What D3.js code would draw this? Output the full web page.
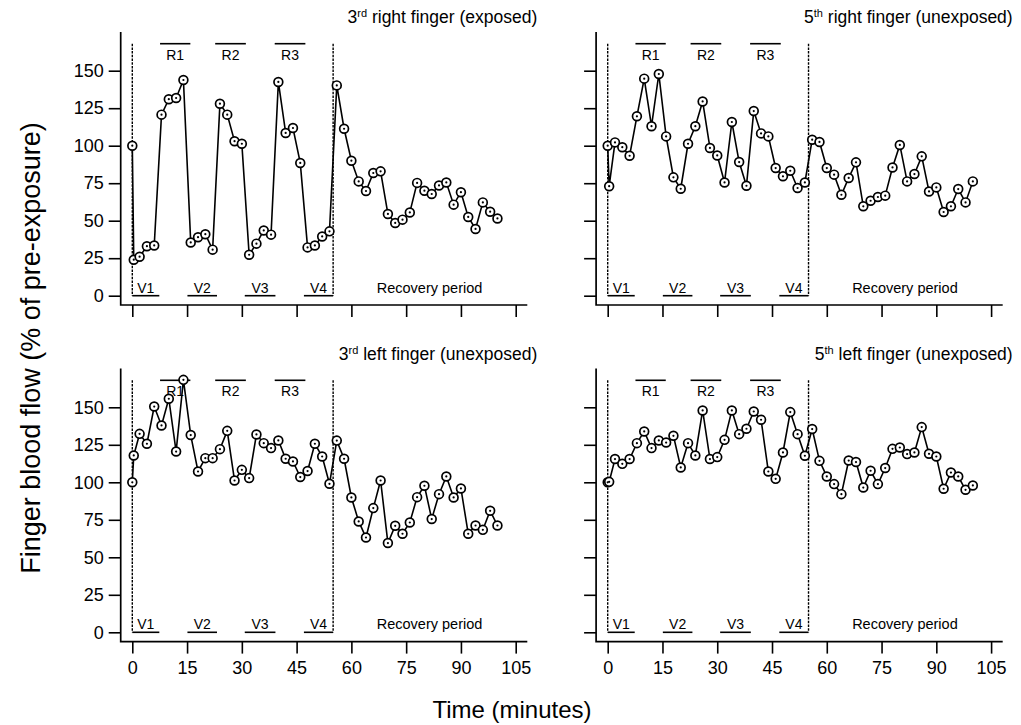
<!DOCTYPE html>
<html>
<head>
<meta charset="utf-8">
<script src="https://cdn.jsdelivr.net/npm/d3@7/dist/d3.min.js"></script>
<style>
  body { margin: 0; background: #fff; }
  svg { display: block; font-family: "Liberation Sans", Arial, sans-serif; }
</style>
</head>
<body>
<div id="chart"></div>
<script>
// sampling times (minutes)
const times = [0, 0.4, 2, 4, 6, 8, 10, 12, 14, 16, 18, 20, 22, 24, 26, 28, 30, 32, 34, 36, 38, 40,
  42, 44, 46, 48, 50, 52, 54, 56, 58, 60, 62, 64, 66, 68, 70, 72, 74, 76, 78, 80, 82, 84, 86,
  88, 90, 92, 94, 96, 98, 100];

// blood flow, % of pre-exposure
const right3 = [100, 24, 26, 33, 33.5, 120.7, 131, 131.8, 143.8, 35.5, 39, 41, 30.7, 128, 120.7,
  103, 101.3, 27.3, 34.7, 43.5, 40.7, 142.5, 108.5, 111.8, 88.5, 32.2, 33.5, 39.5, 42.9, 140.2,
  111.3, 90, 76.2, 69.8, 81.8, 82.9, 54.5, 48.5, 50.7, 55.5, 75.2, 70, 67.8, 73.5, 75.5, 60.7,
  69, 52.5, 44.5, 62.2, 56, 51.5];
const right5 = [100, 73, 102.2, 99, 93.3, 119.6, 144.7, 113, 147.8, 106.2, 78.9, 71.3, 101.3, 113,
  129.5, 98.5, 93.5, 75.5, 115.8, 89.1, 73.3, 123.1, 108.2, 106.2, 85.1, 79.6, 83.3, 71.8, 75.5,
  104, 102.5, 85.1, 80.7, 67.3, 78.5, 88.9, 59.6, 63.3, 65.8, 66.7, 85.5, 100.5, 76.2, 81.1,
  92.9, 69.5, 72.2, 55.8, 59.6, 71.1, 62.2, 76.2];
const left3 = [100, 117.9, 132.3, 125.7, 150.5, 137.9, 155.7, 120.5, 168.3, 131.5, 107.2, 116.1,
  116.1, 122.1, 134.3, 101.2, 108.3, 102.8, 131.9, 126.1, 122.8, 127.9, 115.7, 113.9, 103.5,
  107.5, 125.7, 117.2, 99, 127.8, 115.7, 89.9, 73.9, 63.2, 82.8, 101.2, 59.5, 71, 65.7, 73.2,
  90.1, 97.7, 75.5, 92.1, 103.9, 89.9, 95.9, 65.7, 71.2, 68.3, 81, 71.2];
const left5 = [100, 100.3, 115.5, 112.3, 115.5, 126.1, 133.9, 122.8, 127.9, 126.5, 131, 109.9,
  126.1, 117.9, 147.9, 115.5, 116.8, 128.3, 147.9, 132.1, 135.7, 147.2, 141.7, 107.2, 102.3,
  119.9, 146.8, 132.1, 117.7, 135.5, 114.3, 103.9, 98.8, 92.1, 114.5, 113.5, 96.5, 107.7, 98.8,
  109.5, 122.3, 123.2, 118.8, 119.9, 136.8, 119, 117.2, 95.7, 106.5, 103.9, 95, 97.9];

// panel titles: [number, ordinal suffix, rest]
const titles = [
  ["3", "rd", " right finger (exposed)"],
  ["5", "th", " right finger (unexposed)"],
  ["3", "rd", " left finger (unexposed)"],
  ["5", "th", " left finger (unexposed)"]
];
const series = [right3, right5, left3, left5];

// protocol periods (minutes)
const restLabels = ["R1", "R2", "R3"];
const restPeriods = [[7.6, 15.9], [22.7, 31.1], [39, 47.4]];
const vibLabels = ["V1", "V2", "V3", "V4"];
const vibPeriods = [[0, 7.4], [15.1, 23.2], [30.8, 39.2], [47, 55]];
const exposureBounds = [0, 55];
const recoveryLabel = "Recovery period";
const recoveryCentre = 81.4;

const xTicks = [0, 15, 30, 45, 60, 75, 90, 105];
const yTicks = [0, 25, 50, 75, 100, 125, 150];

const W = 1021, H = 725;
const svg = d3.select("#chart").append("svg").attr("width", W).attr("height", H);

const colDx = 475.4, rowDy = 336.6;
const tickLen = 12;

series.forEach((vals, i) => {
  const col = i % 2, row = Math.floor(i / 2);
  const ox = col * colDx, oy = row * rowDy;

  const x = d3.scaleLinear().domain([0, 105]).range([132.3 + ox, 515.7 + ox]);
  const y = d3.scaleLinear().domain([0, 150]).range([295.7 + oy, 70.7 + oy]);

  const axisX = 120.7 + ox;     // y-axis line position
  const axisY = 305 + oy;       // x-axis line position
  const axisTop = 32 + oy;
  const axisRight = 527.3 + ox;
  const g = svg.append("g");

  // axes
  const yAxis = d3.axisLeft(y).tickValues(yTicks).tickSize(tickLen).tickPadding(5)
    .tickFormat(col === 0 ? d3.format("d") : "");
  const ya = g.append("g").attr("transform", `translate(${axisX},0)`).call(yAxis);
  ya.select(".domain").remove();

  const xAxis = d3.axisBottom(x).tickValues(xTicks).tickSize(tickLen).tickPadding(8)
    .tickFormat(row === 1 ? d3.format("d") : "");
  const xa = g.append("g").attr("transform", `translate(0,${axisY})`).call(xAxis);
  xa.select(".domain").remove();

  [ya, xa].forEach(a => {
    a.selectAll(".tick line").attr("stroke", "#000").attr("stroke-width", 1.6);
    a.selectAll(".tick text").attr("fill", "#000")
      .style("font-size", "18px").style("font-family", "'Liberation Sans', Arial, sans-serif");
  });

  g.append("path")
    .attr("d", `M${axisX},${axisTop}V${axisY}H${axisRight}`)
    .attr("fill", "none").attr("stroke", "#000").attr("stroke-width", 1.7);

  // title
  const t = titles[i];
  const tt = g.append("text").attr("x", axisRight + 10).attr("y", axisTop - 9)
    .attr("text-anchor", "end").style("font-size", "17.5px").attr("fill", "#000");
  tt.append("tspan").text(t[0]);
  tt.append("tspan").attr("dy", -6).style("font-size", "11px").text(t[1]);
  tt.append("tspan").attr("dy", 6).text(t[2]);

  const barY = y(168);
  const zeroY = y(0);

  // exposure boundaries
  exposureBounds.forEach(b => {
    g.append("line")
      .attr("x1", x(b)).attr("x2", x(b)).attr("y1", barY).attr("y2", zeroY)
      .attr("stroke", "#000").attr("stroke-width", 1.4).attr("stroke-dasharray", "2.5,1.2");
  });

  // rest periods
  restPeriods.forEach((p, k) => {
    g.append("line").attr("x1", x(p[0])).attr("x2", x(p[1])).attr("y1", barY).attr("y2", barY)
      .attr("stroke", "#000").attr("stroke-width", 1.6);
    g.append("text").attr("x", x((p[0] + p[1]) / 2)).attr("y", barY + 16)
      .attr("text-anchor", "middle").style("font-size", "14px").attr("fill", "#000")
      .text(restLabels[k]);
  });

  // vibration periods
  vibPeriods.forEach((p, k) => {
    g.append("line").attr("x1", x(p[0])).attr("x2", x(p[1])).attr("y1", zeroY).attr("y2", zeroY)
      .attr("stroke", "#000").attr("stroke-width", 1.6);
    g.append("text").attr("x", x((p[0] + p[1]) / 2)).attr("y", zeroY - 3)
      .attr("text-anchor", "middle").style("font-size", "14px").attr("fill", "#000")
      .text(vibLabels[k]);
  });

  g.append("text").attr("x", x(recoveryCentre)).attr("y", zeroY - 3)
    .attr("text-anchor", "middle").style("font-size", "14.5px").attr("fill", "#000")
    .text(recoveryLabel);

  // data line and markers
  const pts = times.map((tm, k) => [tm, vals[k]]);
  const line = d3.line().x(d => x(d[0])).y(d => y(d[1]));
  g.append("path").datum(pts).attr("d", line)
    .attr("fill", "none").attr("stroke", "#000").attr("stroke-width", 1.6);

  g.selectAll("circle.m").data(pts).join("circle").attr("class", "m")
    .attr("cx", d => x(d[0])).attr("cy", d => y(d[1])).attr("r", 4.4)
    .attr("fill", "#fff").attr("stroke", "#000").attr("stroke-width", 1.7);
  g.selectAll("circle.c").data(pts).join("circle").attr("class", "c")
    .attr("cx", d => x(d[0])).attr("cy", d => y(d[1])).attr("r", 1.1)
    .attr("fill", "#000");
});

// axis titles
svg.append("text")
  .attr("transform", "translate(40,348) rotate(-90)")
  .attr("text-anchor", "middle").style("font-size", "27px").attr("fill", "#000")
  .text("Finger blood flow (% of pre-exposure)");

svg.append("text")
  .attr("x", 512).attr("y", 718)
  .attr("text-anchor", "middle").style("font-size", "24px").attr("fill", "#000")
  .text("Time (minutes)");
</script>
</body>
</html>
